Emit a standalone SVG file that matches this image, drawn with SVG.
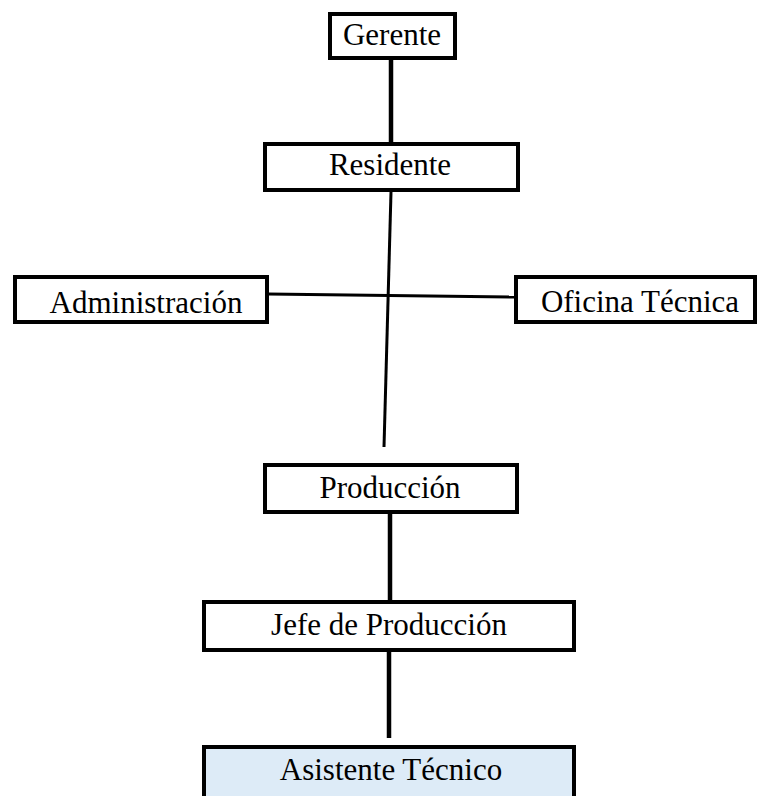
<svg xmlns="http://www.w3.org/2000/svg" width="759" height="796" viewBox="0 0 759 796">
<style>
.box{fill:#fff;stroke:#000;stroke-width:4}
.blue{fill:#DDEBF7}
.t{font-family:"Liberation Serif","Times New Roman",serif;font-size:31px;fill:#000;text-anchor:middle}
.c{stroke:#000;fill:none}
</style>
<rect width="759" height="796" fill="#fff"/>
<g id="connectors">
<line class="c" x1="391" y1="58" x2="391" y2="142" stroke-width="4.5"/>
<line class="c" x1="391" y1="192" x2="384" y2="447" stroke-width="3"/>
<line class="c" x1="268" y1="294" x2="514" y2="297" stroke-width="3"/>
<line class="c" x1="390" y1="513" x2="390" y2="600" stroke-width="4.5"/>
<line class="c" x1="389" y1="652" x2="389" y2="738" stroke-width="4.5"/>
</g>
<g id="gerente">
<rect class="box" x="330" y="14" width="125" height="44"/>
<text class="t" x="392" y="45">Gerente</text>
</g>
<g id="residente">
<rect class="box" x="265" y="144" width="253" height="46"/>
<text class="t" x="390" y="175">Residente</text>
</g>
<g id="administracion">
<rect class="box" x="15" y="277" width="252" height="45"/>
<text class="t" x="146" y="313">Administración</text>
</g>
<g id="oficina">
<rect class="box" x="516" y="277" width="239" height="45"/>
<text class="t" x="640" y="312">Oficina Técnica</text>
</g>
<g id="produccion">
<rect class="box" x="265" y="465" width="252" height="47"/>
<text class="t" x="390" y="498">Producción</text>
</g>
<g id="jefe">
<rect class="box" x="204" y="602" width="370" height="48"/>
<text class="t" x="389" y="635">Jefe de Producción</text>
</g>
<g id="asistente">
<rect class="box blue" x="204" y="747" width="370" height="60"/>
<text class="t" x="391" y="780">Asistente Técnico</text>
</g>
</svg>
